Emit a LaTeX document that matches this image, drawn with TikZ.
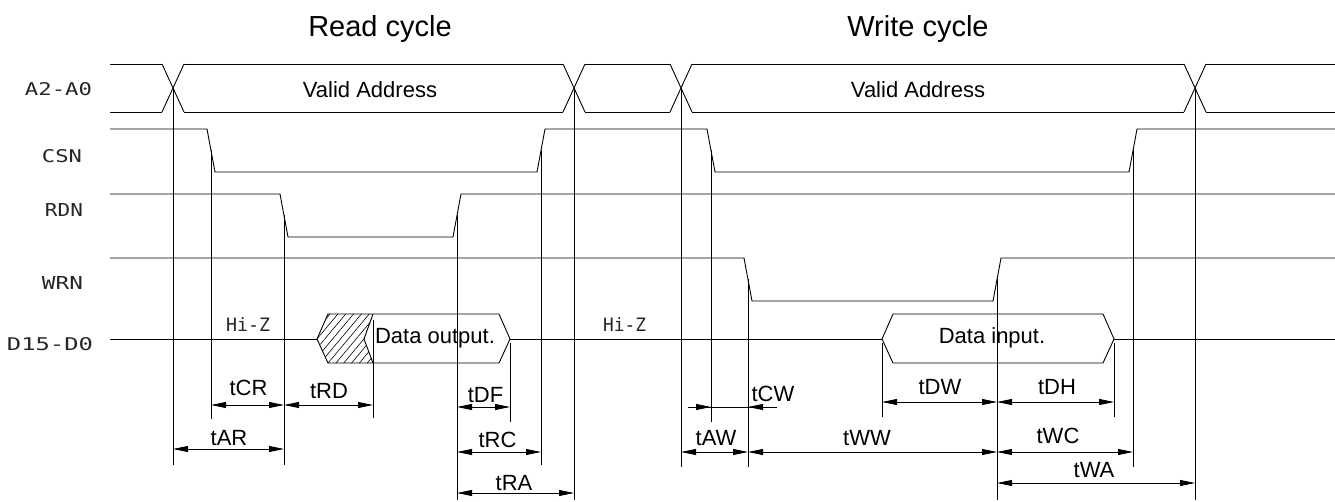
\documentclass[tikz,border=0pt]{standalone}
\usepackage{fontspec}
\setmainfont{Liberation Sans}
\newfontfamily\cadfont{DejaVu Sans Mono}
\usetikzlibrary{arrows.meta,patterns.meta}
\begin{document}
\begin{tikzpicture}[x=1pt,y=-1pt,
  sig/.style={line width=0.9pt},
  ext/.style={line width=0.8pt},
  tip/.style={arrows={-Triangle[length=15pt,width=6pt]}},
  dim/.style={line width=0.8pt,arrows={Triangle[length=15pt,width=6pt]-Triangle[length=15pt,width=6pt]}},
  title/.style={font=\fontsize{29}{32}\selectfont,anchor=base,inner sep=0pt},
  lbl/.style={font=\fontsize{22}{25}\selectfont,anchor=base,inner sep=0pt},
  txt/.style={font=\fontsize{22}{25}\selectfont,anchor=base,inner sep=0pt},
  cad/.style={inner sep=0pt,anchor=center,text=black!85}]
\useasboundingbox (0,0) rectangle (1335,502);

% titles
\node[title] (tRead) at (380,37) {Read cycle};
\node[title] (tWrite) at (918,37) {Write cycle};

% signal names
\node[cad] (lA) at (58.5,89) {\resizebox{67pt}{13pt}{\cadfont A2-A0}};
\node[cad] (lC) at (62,156.5) {\resizebox{40pt}{13pt}{\cadfont CSN}};
\node[cad] (lR) at (64,210) {\resizebox{38pt}{13pt}{\cadfont RDN}};
\node[cad] (lW) at (62.5,283.5) {\resizebox{41pt}{13pt}{\cadfont WRN}};
\node[cad] (lD) at (50,344) {\resizebox{86pt}{13pt}{\cadfont D15-D0}};
\node[cad] (hz1) at (248,325) {\resizebox{44pt}{14pt}{\cadfont Hi-Z}};
\node[cad] (hz2) at (624.5,324.5) {\resizebox{43pt}{14pt}{\cadfont Hi-Z}};

% key coordinates
\coordinate (xA1) at (173,88);
\coordinate (xA2) at (574,88);
\coordinate (xA3) at (681,88);
\coordinate (xA4) at (1195,88);
\coordinate (csF1) at (211,150.5);
\coordinate (csR1) at (541,150.5);
\coordinate (csF2) at (711,150.5);
\coordinate (csR2) at (1133,150.5);
\coordinate (rdF) at (284,215.5);
\coordinate (rdR) at (457,215.5);
\coordinate (wrF) at (748,279.5);
\coordinate (wrR) at (997,279.5);

% A2-A0 bus
\foreach \c in {173,574,681,1195}{
  \draw[sig] (\c-11,64)--(\c+11,112) (\c-11,112)--(\c+11,64);
}
\draw[sig] (110,64)--(162,64) (184,64)--(563,64) (585,64)--(670,64) (692,64)--(1184,64) (1206,64)--(1335,64);
\draw[sig] (110,112)--(162,112) (184,112)--(563,112) (585,112)--(670,112) (692,112)--(1184,112) (1206,112)--(1335,112);
\node[txt] (va1) at (370,98) {Valid Address};
\node[txt] (va2) at (918,98) {Valid Address};

% CSN
\draw[sig] (110,129)--(207,129)--(215,172)--(537,172)--(545,129)--(707,129)--(715,172)--(1129,172)--(1137,129)--(1335,129);
% RDN
\draw[sig] (110,194)--(280,194)--(288,237)--(453,237)--(461,194)--(1335,194);
% WRN
\draw[sig] (110,258)--(744,258)--(752,301)--(993,301)--(1001,258)--(1335,258);

% D15-D0
\draw[sig] (110,339)--(317,339) (510,339)--(882,339) (1114,339)--(1335,339);
\fill[pattern={Lines[angle=50,distance=6pt,line width=0.6pt]}] (317,339)--(328,314)--(373,314)--(364,339)--(373,363)--(328,363)--cycle;
\draw[sig] (317,339)--(328,314)--(499,314)--(510,339)--(499,363)--(328,363)--cycle;
\draw[sig] (373,314)--(364,339)--(373,363);
\node[txt] (dout) at (435,344) {Data output.};
\draw[sig] (882,339)--(893,314)--(1103,314)--(1114,339)--(1103,363)--(893,363)--cycle;
\node[txt] (din) at (992,343) {Data input.};

% extension lines
\draw[ext] (xA1)--(173,465);
\draw[ext] (csF1)--(211,419);
\draw[ext] (rdF)--(284,465);
\draw[ext] (373,320)--(373,418);
\draw[ext] (rdR)--(457,500);
\draw[ext] (510,343)--(510,422);
\draw[ext] (csR1)--(541,465);
\draw[ext] (xA2)--(574,500);
\draw[ext] (xA3)--(681,467);
\draw[ext] (csF2)--(711,422);
\draw[ext] (wrF)--(748,467);
\draw[ext] (882,343)--(882,417);
\draw[ext] (wrR)--(997,500);
\draw[ext] (1114,343)--(1114,417);
\draw[ext] (csR2)--(1133,467);
\draw[ext] (xA4)--(1195,500);

% read dimensions
\draw[dim] (211,405)--(284,405);
\draw[dim] (284,405)--(373,405);
\draw[dim] (173,449)--(284,449);
\draw[dim] (457,407)--(510,407);
\draw[dim] (457,452)--(541,452);
\draw[dim] (457,493)--(574,493);
\node[lbl] (ltCR) at (248.5,395) {tCR};
\node[lbl] (ltRD) at (329,398) {tRD};
\node[lbl] (ltAR) at (229,445) {tAR};
\node[lbl] (ltDF) at (485.5,402) {tDF};
\node[lbl] (ltRC) at (497.5,447) {tRC};
\node[lbl] (ltRA) at (514,490) {tRA};

% write dimensions
\draw[ext] (688,407)--(777,407);
\draw[ext,tip] (688,407)--(711,407);
\draw[ext,tip] (777,407)--(748,407);
\draw[dim] (681,452)--(748,452);
\draw[dim] (748,452)--(997,452);
\draw[dim] (882,402)--(997,402);
\draw[dim] (997,402)--(1114,402);
\draw[dim] (997,452)--(1133,452);
\draw[dim] (997,483)--(1195,483);
\node[lbl] (ltCW) at (773,401) {tCW};
\node[lbl] (ltAW) at (716,445) {tAW};
\node[lbl] (ltWW) at (867,445) {tWW};
\node[lbl] (ltDW) at (940,394) {tDW};
\node[lbl] (ltDH) at (1057,394) {tDH};
\node[lbl] (ltWC) at (1058,443) {tWC};
\node[lbl] (ltWA) at (1094,477) {tWA};
\end{tikzpicture}
\end{document}
